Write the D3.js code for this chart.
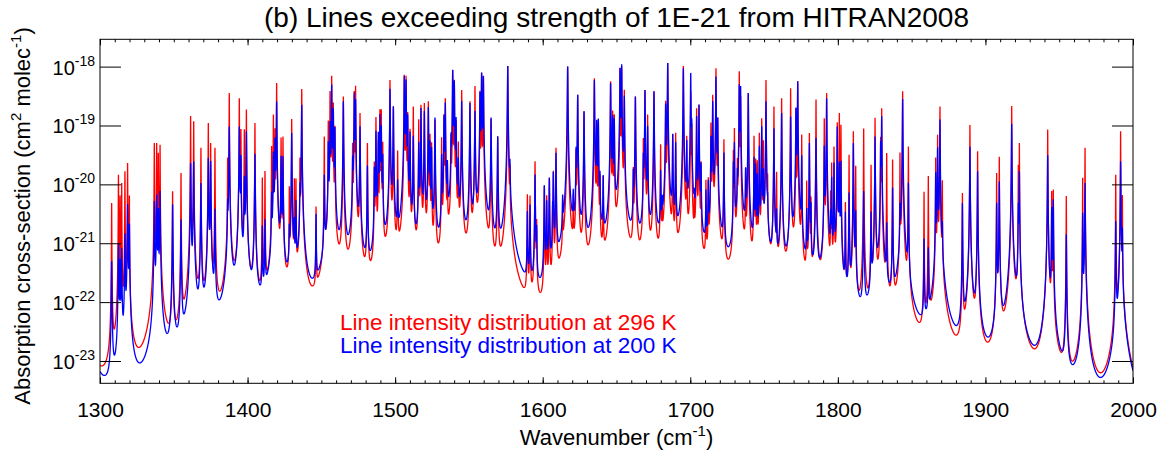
<!DOCTYPE html>
<html><head><meta charset="utf-8">
<script src="https://cdn.jsdelivr.net/npm/d3@7"></script>
<style>
body{margin:0;background:#fff}
svg{display:block}
text{font-family:"Liberation Sans",Arial,Helvetica,sans-serif;fill:#000}
</style>
</head><body>
<svg id="chart" width="1170" height="453"></svg>
<script>
// ---- data: line centres (cm-1) and peak heights (log10 cm2/molec)
// (first entry lies just below 1300 cm-1: only its wing is visible at the left edge)
const lineCenters = [
1288.0,
1307.9,1312.5,1313.6,1314.7,1316.9,1318.7,1319.9,1336.8,1338.4,1339.5,1340.7,1349.2,1354.9,1361.4,1363.5,1368.4,1373.4,
1375.0,1377.9,1386.5,1387.6,1394.4,1395.5,1397.8,1399.2,1405.0,1410.0,1411.8,1416.3,1417.5,1418.6,1419.7,1422.7,1424.0,1428.3,1429.9,1431.7,1432.8,1435.5,1436.7,
1446.4,1452.0,1454.7,1455.9,1457.0,1458.1,1459.2,1464.9,1471.2,1472.3,1473.2,1476.2,1481.2,1485.9,1487.0,1488.6,1489.7,1490.6,1491.6,1496.5,1498.8,1501.7,1506.2,1507.4,1508.5,1510.1,1512.3,1516.0,
1517.5,1519.8,1522.5,1523.6,1524.7,1527.0,1531.5,1533.1,1534.0,1535.4,1537.9,1539.0,1540.1,1541.3,1542.8,1545.1,1550.7,1554.1,1557.5,1558.6,1559.8,1565.0,1569.5,1576.3,1577.8,
1589.6,1591.4,1594.8,1595.9,1601.1,1602.7,1604.5,1606.7,1607.2,1609.0,1613.5,1616.9,1620.7,1622.6,1623.7,1628.0,1635.0,1636.6,1637.7,1638.8,1641.0,1646.0,1647.4,1648.5,1652.4,1653.5,1655.3,
1661.4,1662.8,1668.2,1669.3,1671.1,1675.4,1679.9,1681.0,1683.3,1684.7,1688.1,1690.1,1695.3,1697.6,1700.3,1701.0,1702.7,1704.3,1705.9,1707.3,1710.6,1712.2,1714.0,1715.2,1717.4,1718.6,1722.8,1729.2,1729.9,
1731.9,1733.2,1734.1,1737.5,1739.3,1743.2,1744.3,1745.4,1746.8,1748.4,1749.5,1751.3,1752.4,1756.7,1758.5,1761.9,1768.0,1771.6,1772.8,1775.5,1778.9,1780.7,1781.8,1785.2,1790.8,1792.4,1795.1,1795.8,1797.4,1799.6,1801.0,1802.1,
1805.1,1807.6,1810.5,1812.1,1817.5,1822.5,1825.2,1829.0,1829.7,1833.1,1837.1,1842.1,1843.9,1847.8,1858.4,1861.3,1866.3,1867.6,1869.2,1870.8,
1884.4,1889.5,1894.7,1907.6,1909.4,1917.8,1922.3,1923.0,1942.2,
1944.9,1946.0,1954.8,1965.9,1967.5,1988.3,1991.6,1992.8
];
const logPeak296 = [
-18.95,
-20.32,-19.84,-20.2,-19.98,-19.78,-19.64,-20.2,-19.3,-19.3,-19.47,-19.33,-20.12,-19.81,-18.84,-18.93,-19.38,-18.96,
-19.3,-19.38,-19.58,-18.45,-18.54,-19.07,-19.07,-18.73,-18.96,-19.89,-19.78,-19.36,-18.82,-19.07,-18.28,-19.21,-19.19,-20.06,-18.89,-19.92,-19.92,-19.58,-18.38,
-20.4,-19.19,-18.93,-18.42,-18.16,-18.62,-19.02,-18.51,-19.33,-18.42,-18.33,-18.79,-19.3,-19.64,-18.86,-19.27,-18.73,-18.73,-19.3,-18.23,-18.68,-19.44,-18.14,-18.16,-18.79,-19.07,-18.68,-18.9,
-18.65,-18.62,-18.59,-19.16,-19.3,-18.9,-19.21,-18.82,-18.54,-19.69,-19.21,-18.06,-18.23,-18.93,-19.3,-18.4,-18.59,-18.33,-18.42,-18.11,-18.16,-18.89,-19.19,-17.99,-19.78,
-20.18,-20.2,-19.61,-20.65,-20.03,-20.2,-19.9,-20.49,-19.78,-19.38,-20.35,-18.0,-20.26,-19.44,-18.48,-18.76,-18.2,-18.99,-18.93,-19.89,-19.89,-18.25,-18.76,-18.82,-18.03,-18.0,-18.4,
-19.76,-18.51,-19.24,-18.4,-18.82,-18.42,-19.33,-20.49,-18.59,-17.94,-19.16,-19.13,-17.99,-19.19,-18.42,-18.99,-20.4,-18.71,-18.65,-19.64,-19.95,-19.92,-18.96,-18.48,-18.03,-18.88,-19.24,-19.44,-19.05,
-19.64,-18.08,-18.51,-19.75,-18.45,-19.18,-19.58,-19.61,-19.13,-18.88,-19.27,-18.23,-19.95,-18.68,-19.81,-18.54,-18.37,-18.71,-18.25,-19.16,-19.95,-19.13,-20.26,-18.56,-18.88,-18.45,-20.15,-19.64,-19.36,-18.95,-18.79,-18.99,
-20.32,-19.5,-19.1,-19.69,-19.05,-19.67,-18.87,-19.21,-18.71,-19.47,-19.58,-19.47,-18.42,-19.36,-20.13,-19.86,-19.55,-19.16,-18.68,-19.95,
-20.15,-18.99,-19.44,-19.81,-19.53,-18.67,-19.68,-19.3,-19.07,
-20.12,-20.09,-20.2,-19.89,-19.38,-19.84,-19.1,-20.2
];
const logPeak200 = [
-19.5,
-21.31,-21.02,-21.3,-21.1,-20.85,-20.34,-20.68,-20.29,-20.18,-20.43,-20.12,-20.34,-20.6,-19.64,-19.61,-19.98,-19.55,
-19.61,-20.43,-20.43,-19.02,-19.02,-19.53,-19.89,-19.1,-19.48,-20.74,-20.63,-20.2,-19.47,-19.24,-18.59,-19.53,-19.53,-20.88,-19.13,-20.71,-20.32,-20.12,-18.65,
-20.54,-19.86,-19.3,-18.96,-18.31,-18.73,-19.05,-18.59,-19.64,-18.45,-18.57,-19.02,-19.69,-19.75,-19.1,-19.13,-18.82,-19.02,-19.53,-18.38,-18.68,-20.0,-18.16,-18.23,-18.85,-19.13,-19.19,-19.3,
-18.71,-18.76,-18.69,-19.3,-19.4,-18.87,-19.53,-18.85,-18.62,-19.7,-19.24,-18.06,-18.25,-18.9,-19.64,-18.59,-18.62,-18.76,-18.45,-18.11,-18.17,-18.87,-19.19,-17.99,-19.78,
-20.49,-20.37,-19.84,-20.8,-20.03,-20.31,-19.9,-20.49,-19.81,-19.47,-20.35,-18.0,-20.26,-19.44,-18.48,-18.76,-18.23,-18.93,-18.9,-19.9,-19.9,-18.28,-18.85,-18.9,-18.03,-17.97,-18.51,
-19.86,-18.51,-19.58,-18.4,-19.02,-18.42,-19.81,-20.5,-18.65,-17.94,-19.16,-19.3,-18.03,-19.3,-18.11,-19.0,-20.5,-18.85,-18.65,-19.7,-20.17,-20.0,-19.21,-18.59,-18.17,-18.9,-19.47,-19.67,-19.3,
-19.98,-18.31,-18.34,-19.8,-18.45,-19.55,-19.67,-19.86,-19.36,-19.02,-19.81,-18.59,-20.51,-19.05,-20.54,-18.79,-18.85,-18.71,-18.25,-19.53,-20.49,-19.3,-20.4,-19.21,-19.36,-18.54,-20.6,-19.9,-19.64,-19.02,-19.64,-19.61,
-20.49,-20.15,-19.3,-20.49,-20.12,-20.49,-19.19,-19.3,-18.85,-20.71,-20.06,-20.46,-18.55,-19.98,-20.94,-21.11,-19.81,-19.38,-18.9,-20.82,
-20.32,-19.36,-19.78,-20.32,-19.95,-18.97,-20.37,-19.78,-19.5,
-20.4,-20.26,-20.85,-20.49,-19.98,-20.63,-19.61,-20.8
];
// Lorentz half-widths (cm-1) of the two spectra at a few wavenumbers, and far-wing roll-off scale (cm-1)
const widthKnots = [1300, 1450, 1600, 1720, 1800, 2000];
const halfWidth296 = [0.08, 0.09, 0.11, 0.095, 0.078, 0.074];
const halfWidth200 = [0.15, 0.14, 0.155, 0.14, 0.125, 0.128];
const wingScale = 50;

const xMajorTicks = [1300,1400,1500,1600,1700,1800,1900,2000];
const xMinorTicks = d3.range(1300, 2001, 10);
const yTickExponents = [-18,-19,-20,-21,-22,-23];
const titleText = "(b) Lines exceeding strength of 1E-21 from HITRAN2008";
const legendLabels = ["Line intensity distribution at 296 K","Line intensity distribution at 200 K"];
const seriesColors = ["#ff0000","#0000ff"];

// ---- layout
const L = 100, R = 1133, T = 39.3, B = 383.3;
const svg = d3.select("#chart");
const x = d3.scaleLinear().domain([1300, 2000]).range([L, R]);
const y = d3.scaleLog().domain([Math.pow(10,-23.379), Math.pow(10,-17.536)]).range([B, T]);

// ---- spectra (sum of Lorentz lines, sub-Lorentzian far wings)
const widthScales = [d3.scaleLinear().domain(widthKnots).range(halfWidth296).clamp(true),
                     d3.scaleLinear().domain(widthKnots).range(halfWidth200).clamp(true)];
const peaks = [logPeak296, logPeak200];
const grid = d3.range(1300, 2000.0001, 0.04)
  .concat(lineCenters.filter(c=>c>=1300 && c<=2000)).sort((a,b)=>a-b);
function spectrum(k){
  const ls = lineCenters.map((c,i)=>{
    const g = widthScales[k](c);
    return {c, a: Math.pow(10, peaks[k][i]), g2: g*g};
  });
  const w2 = wingScale*wingScale;
  return grid.map(v=>{
    let s = 0;
    for (const ln of ls){
      const d2 = (v-ln.c)*(v-ln.c);
      s += ln.a*ln.g2/(d2+ln.g2) * w2/(w2+d2);
    }
    return [v, s];
  });
}
const spec = [spectrum(0), spectrum(1)];

svg.append("clipPath").attr("id","clip").append("rect")
  .attr("x",L).attr("y",T).attr("width",R-L).attr("height",B-T);
const lineGen = d3.line().x(d=>x(d[0])).y(d=>y(Math.max(d[1],1e-30)));
spec.forEach((s,k)=>{
  svg.append("path").attr("d", lineGen(s)).attr("fill","none")
    .attr("stroke", seriesColors[k]).attr("stroke-width",1.3)
    .attr("clip-path","url(#clip)");
});

// ---- axes
function styleAxis(g){ g.select(".domain").remove(); g.selectAll("line").attr("stroke","#000").attr("stroke-width",1); }
svg.append("g").attr("transform",`translate(0,${B})`)
  .call(d3.axisBottom(x).tickValues(xMinorTicks).tickSize(-3).tickFormat("")).call(styleAxis);
svg.append("g").attr("transform",`translate(0,${T})`)
  .call(d3.axisTop(x).tickValues(xMinorTicks).tickSize(-3).tickFormat("")).call(styleAxis);
svg.append("g").attr("transform",`translate(0,${T})`)
  .call(d3.axisTop(x).tickValues(xMajorTicks).tickSize(-6).tickFormat("")).call(styleAxis);
const xb = svg.append("g").attr("transform",`translate(0,${B})`)
  .call(d3.axisBottom(x).tickValues(xMajorTicks).tickSize(-6).tickPadding(19).tickFormat(d3.format("d")));
xb.call(styleAxis);
xb.selectAll("text").attr("font-size",21).attr("font-family","Liberation Sans, Arial, sans-serif");

const yVals = yTickExponents.map(e=>Math.pow(10,e));
svg.append("g").attr("transform",`translate(${L},0)`)
  .call(d3.axisLeft(y).tickValues(yVals).tickSize(-21).tickFormat("")).call(styleAxis);
svg.append("g").attr("transform",`translate(${R},0)`)
  .call(d3.axisRight(y).tickValues(yVals).tickSize(-21).tickFormat("")).call(styleAxis);

// y tick labels 10^n
yTickExponents.forEach(e=>{
  const t = svg.append("text").attr("x",95).attr("y",y(Math.pow(10,e))+8)
    .attr("text-anchor","end").attr("font-size",20);
  t.append("tspan").text("10");
  t.append("tspan").attr("font-size",14).attr("dy",-9).text(String(e));
});

// frame
svg.append("rect").attr("x",L).attr("y",T).attr("width",R-L).attr("height",B-T)
  .attr("fill","none").attr("stroke","#000").attr("stroke-width",1);

// title
svg.append("text").attr("x",(L+R)/2).attr("y",27).attr("text-anchor","middle")
  .attr("font-size",28).text(titleText);

// x label
const xl = svg.append("text").attr("x",(L+R)/2).attr("y",445).attr("text-anchor","middle").attr("font-size",22);
xl.append("tspan").text("Wavenumber (cm");
xl.append("tspan").attr("font-size",15).attr("dy",-9).text("-1");
xl.append("tspan").attr("dy",9).text(")");

// y label
const yl = svg.append("text").attr("transform",`translate(30,216) rotate(-90)`)
  .attr("text-anchor","middle").attr("font-size",22);
yl.append("tspan").text("Absorption cross-section (cm");
yl.append("tspan").attr("font-size",15).attr("dy",-9).text("2");
yl.append("tspan").attr("dy",9).text(" molec");
yl.append("tspan").attr("font-size",15).attr("dy",-9).text("-1");
yl.append("tspan").attr("dy",9).text(")");

// legend
legendLabels.forEach((lab,i)=>{
  svg.append("text").attr("x",340).attr("y",330+i*23).attr("font-size",22.5)
    .style("fill",seriesColors[i]).text(lab);
});
</script>
</body></html>
